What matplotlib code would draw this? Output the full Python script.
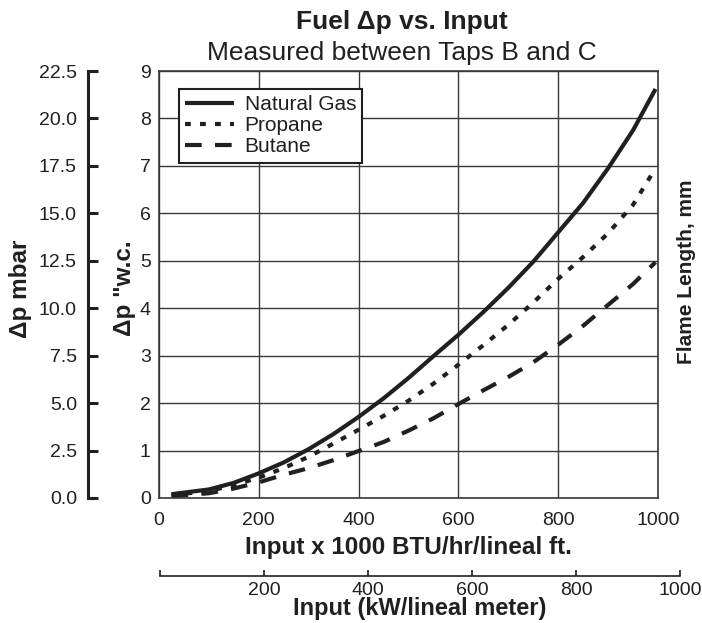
import numpy as np
import matplotlib.pyplot as plt

plt.rcParams['font.family'] = ['Liberation Sans', 'DejaVu Sans']

# input, x 1000 BTU/hr/lineal ft
input_kbtu = [25, 100, 150, 200, 250, 300, 350, 400, 450, 500,
              550, 600, 650, 700, 750, 800, 850, 900, 950, 995]
# fuel dp, inches w.c.
dp_natural_gas = [0.08, 0.18, 0.32, 0.52, 0.75, 1.03, 1.35, 1.71, 2.10, 2.53,
                  2.99, 3.44, 3.92, 4.43, 4.98, 5.60, 6.22, 6.95, 7.75, 8.62]
dp_propane = [0.06, 0.15, 0.27, 0.43, 0.63, 0.87, 1.15, 1.44, 1.73, 2.05,
              2.41, 2.81, 3.22, 3.65, 4.12, 4.62, 5.08, 5.58, 6.18, 6.95]
dp_butane = [0.04, 0.10, 0.20, 0.33, 0.49, 0.63, 0.80, 0.99, 1.18, 1.42,
             1.68, 1.98, 2.27, 2.55, 2.86, 3.23, 3.63, 4.07, 4.51, 4.97]

wc_ticks = list(range(0, 10))
mbar_ticks = [0.0, 2.5, 5.0, 7.5, 10.0, 12.5, 15.0, 17.5, 20.0, 22.5]
btu_ticks = [0, 200, 400, 600, 800, 1000]
kw_ticks = [0, 200, 400, 600, 800, 1000]

W, H = 702, 623
fig = plt.figure(figsize=(W / 100, H / 100), dpi=100)

def px_box(x0, y0, x1, y1):
    # pixel box (top-left origin) -> figure fraction rect
    return [x0 / W, 1 - y1 / H, (x1 - x0) / W, (y1 - y0) / H]

ink = '#231f20'

# main axes
ax = fig.add_axes(px_box(159, 71, 658, 498))
ax.plot(input_kbtu, dp_natural_gas, color=ink, lw=3.0, solid_capstyle='butt', label='Natural Gas')
ax.plot(input_kbtu, dp_propane, color=ink, lw=3.0, dashes=(1.4, 2.2), dash_capstyle='butt', label='Propane')
ax.plot(input_kbtu, dp_butane, color=ink, lw=3.0, dashes=(4.0, 3.2), dash_capstyle='butt', label='Butane')
ax.set_xlim(0, 1000)
ax.set_ylim(0, 9)
ax.set_xticks(btu_ticks)
ax.set_yticks(wc_ticks)
ax.grid(True, color='#3a3a3a', lw=1.0)
ax.set_axisbelow(True)
for s in ax.spines.values():
    s.set_color('#3a3a3a')
    s.set_linewidth(1.2)
ax.tick_params(length=0, labelsize=14, colors=ink)
ax.tick_params(axis='y', pad=6)
ax.tick_params(axis='x', pad=10)
ax.set_xlabel('Input x 1000 BTU/hr/lineal ft.', fontsize=17.5, fontweight='bold', color=ink, labelpad=5)

leg = ax.legend(loc='upper left', bbox_to_anchor=(0.04, 0.958), borderaxespad=0,
                fontsize=15, handlelength=2.35, handletextpad=0.5, borderpad=0.3,
                labelspacing=0.1, fancybox=False, framealpha=1, edgecolor=ink)
leg.get_frame().set_linewidth(1.5)
for t in leg.get_texts():
    t.set_color(ink)

# mbar axis on the left
axm = fig.add_axes(px_box(88, 71, 89, 498))
axm.set_facecolor('none')
for k in ['top', 'right', 'bottom']:
    axm.spines[k].set_visible(False)
axm.spines['left'].set_linewidth(2.2)
axm.spines['left'].set_color(ink)
axm.set_ylim(0, 22.5)
axm.set_yticks(mbar_ticks)
axm.set_yticklabels(['%.1f' % v for v in mbar_ticks])
axm.set_xticks([])
axm.tick_params(axis='y', direction='in', length=7, width=2.2, pad=8, labelsize=14, colors=ink)

# kW axis at the bottom
axk = fig.add_axes(px_box(160, 575, 680, 576))
axk.set_facecolor('none')
for k in ['top', 'right', 'left']:
    axk.spines[k].set_visible(False)
axk.spines['bottom'].set_linewidth(1.2)
axk.spines['bottom'].set_color(ink)
axk.set_xlim(0, 1000)
axk.set_xticks(kw_ticks)
axk.set_xticklabels([''] + [str(v) for v in kw_ticks[1:]])
axk.set_yticks([])
axk.tick_params(axis='x', direction='in', length=4, width=1.2, pad=4, labelsize=14, colors=ink)
axk.set_xlabel('Input (kW/lineal meter)', fontsize=17, fontweight='bold', color=ink, labelpad=-1)

# titles and side labels
fig.text(402 / W, 1 - 22 / H, 'Fuel \u0394p vs. Input', ha='center', va='center',
         fontsize=19, fontweight='bold', color=ink)
fig.text(402 / W, 1 - 53 / H, 'Measured between Taps B and C', ha='center', va='center',
         fontsize=19, color=ink)
fig.text(21 / W, 1 - 289 / H, '\u0394p mbar', rotation=90, ha='center', va='center',
         fontsize=17.5, fontweight='bold', color=ink)
fig.text(124 / W, 1 - 288 / H, '\u0394p "w.c.', rotation=90, ha='center', va='center',
         fontsize=17.5, fontweight='bold', color=ink)
fig.text(687 / W, 1 - 272 / H, 'Flame Length, mm', rotation=90, ha='center', va='center',
         fontsize=15, fontweight='bold', color=ink)

fig.savefig('out.png', dpi=100)
